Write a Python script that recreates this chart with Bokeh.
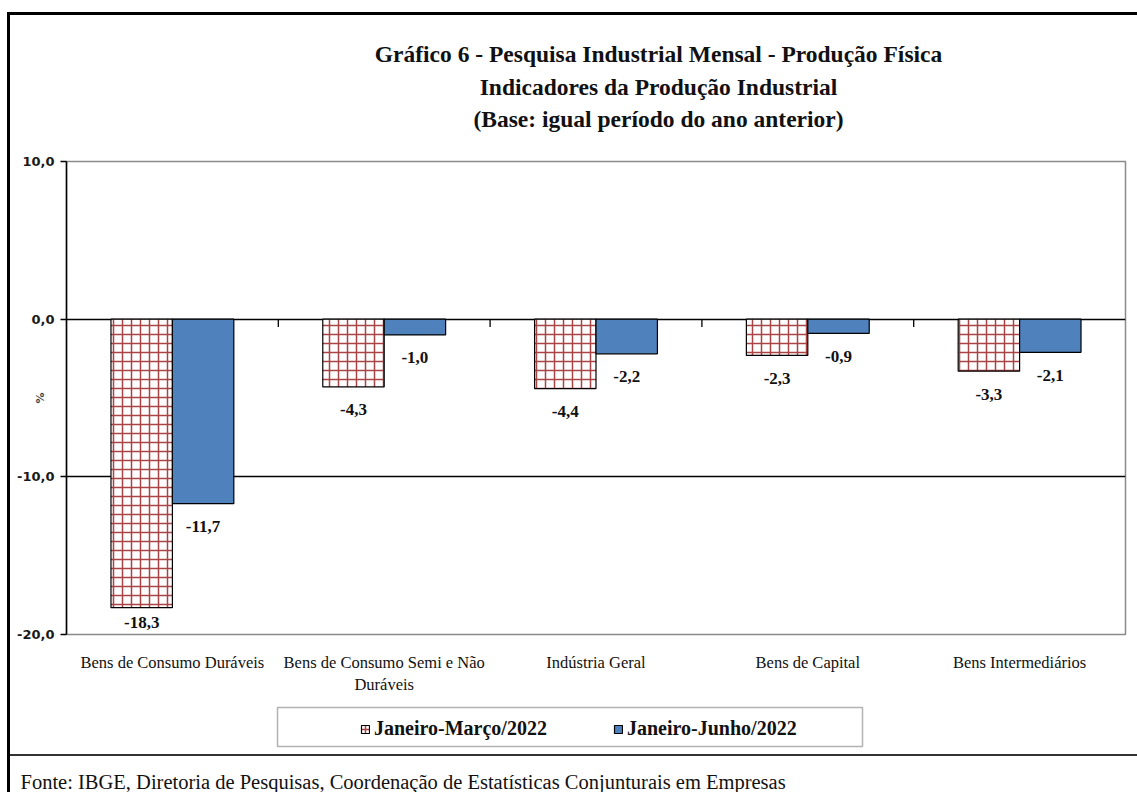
from bokeh.plotting import figure
from bokeh.layouts import column
from bokeh.models import (ColumnDataSource, FactorRange, Range1d, FixedTicker, Label, Title,
                          BoxAnnotation, Legend, LegendItem)
from bokeh.transform import dodge
from bokeh.core.properties import value
from bokeh.embed import file_html
from bokeh.resources import INLINE

# ---------------- data ----------------
categories = ["Bens de Consumo Duráveis", "Bens de Consumo Semi e Não\nDuráveis",
              "Indústria Geral", "Bens de Capital", "Bens Intermediários"]
jan_mar = [-18.3, -4.3, -4.4, -2.3, -3.3]
jan_jun = [-11.7, -1.0, -2.2, -0.9, -2.1]
series_names = ["Janeiro-Março/2022", "Janeiro-Junho/2022"]
y_ticks = [10, 0, -10, -20]
title_lines = ["Gráfico 6 - Pesquisa Industrial Mensal - Produção Física",
               "Indicadores da Produção Industrial",
               "(Base: igual período do ano anterior)"]
y_label = "%"
source_text = "Fonte: IBGE, Diretoria de Pesquisas, Coordenação de Estatísticas Conjunturais em Empresas"

# ---------------- style ----------------
SERIF = "Liberation Serif"
BLUE = "#4F81BD"
BRICK = "#A94444"
TXT = "#111111"
W_TOTAL = 1137
H_TOP, H_MAIN, H_BOT = 140, 560, 92
FRAME_LEFT = 67          # frames of the stacked figures are aligned here

def fmt(v):
    return f"{v:.1f}".replace(".", ",")

def label_y(v):
    return max(v - 1.45, -19.25)

def bg(*layers):
    # layers: (x, y, w, h, color) -> CSS background lines behind the transparent canvas
    return {
        "background-image": ", ".join(f"linear-gradient({c},{c})" for *_, c in layers),
        "background-size": ", ".join(f"{w}px {h}px" for _, _, w, h, _ in layers),
        "background-position": ", ".join(f"{x}px {y}px" for x, y, *_ in layers),
        "background-repeat": "no-repeat",
    }

def blank(height):
    f = figure(width=W_TOTAL, height=height, x_range=Range1d(0, 1), y_range=Range1d(0, 1),
               x_axis_type=None, y_axis_type=None, output_backend="svg", toolbar_location=None,
               min_border=0, min_border_left=0, min_border_right=0, min_border_top=0,
               min_border_bottom=0)
    f.grid.visible = False
    f.outline_line_color = None
    f.background_fill_color = None
    f.border_fill_color = None
    return f

# ---------------- header (title) ----------------
top = blank(H_TOP)
top.styles = bg((7, 12, 3, H_TOP, "#000"), (7, 12, W_TOTAL, 3, "#000"))
for line, page_y in zip(title_lines, [53, 86, 118]):
    top.add_layout(Label(x=659 - FRAME_LEFT, y=H_TOP - page_y, x_units="screen", y_units="screen",
                         text=line, text_font=SERIF, text_font_style="bold",
                         text_font_size="23.5px", text_align="center", text_baseline="middle",
                         text_color=TXT))

# ---------------- main chart ----------------
src = ColumnDataSource(dict(
    cat=categories,
    a=jan_mar, b=jan_jun,
    a_txt=[fmt(v) for v in jan_mar], b_txt=[fmt(v) for v in jan_jun],
    a_y=[label_y(v) for v in jan_mar], b_y=[label_y(v) for v in jan_jun],
))

p = figure(width=W_TOTAL, height=H_MAIN, frame_width=1059, frame_height=473,
           output_backend="svg", toolbar_location=None,
           x_range=FactorRange(*categories, range_padding=0),
           y_range=Range1d(-20, 10),
           min_border_left=66, min_border_right=12, min_border_top=21, min_border_bottom=66)
p.background_fill_color = "white"
p.border_fill_color = None
p.outline_line_color = "#8a8a8a"
p.outline_line_width = 1.5
p.styles = bg((7, 0, 3, H_MAIN, "#000"))

p.xgrid.grid_line_color = None
p.ygrid.ticker = FixedTicker(ticks=[0, -10])
p.ygrid.grid_line_color = "black"
p.ygrid.grid_line_width = 1.3

p.yaxis.ticker = FixedTicker(ticks=y_ticks)
p.yaxis.major_label_overrides = {t: fmt(t) for t in y_ticks}
p.yaxis.axis_line_color = "black"
p.yaxis.axis_line_width = 1.5
p.yaxis.major_tick_out = 6
p.yaxis.major_tick_in = 0
p.yaxis.major_tick_line_color = "black"
p.yaxis.major_tick_line_width = 1.5
p.yaxis.minor_tick_line_color = None
p.yaxis.major_label_text_font = "DejaVu Sans"
p.yaxis.major_label_text_font_style = "bold"
p.yaxis.major_label_text_font_size = "13px"
p.yaxis.major_label_text_color = "#1a1a1a"
p.yaxis.major_label_standoff = 6
p.yaxis.axis_label = y_label
p.yaxis.axis_label_text_font = "DejaVu Sans"
p.yaxis.axis_label_text_font_style = "bold"
p.yaxis.axis_label_text_font_size = "11px"
p.yaxis.axis_label_standoff = -33

p.xaxis.axis_line_color = None
p.xaxis.major_tick_line_color = None
p.xaxis.minor_tick_line_color = None
p.xaxis.major_label_text_font = SERIF
p.xaxis.major_label_text_font_size = "16.5px"
p.xaxis.major_label_text_color = TXT
p.xaxis.major_label_standoff = 12

W = 0.29
BAR_A = dict(fill_color="white", hatch_pattern="cross", hatch_color=BRICK, hatch_scale=9,
             hatch_weight=1.5, line_color="black", line_width=1.2)
BAR_B = dict(fill_color=BLUE, line_color="black", line_width=1.2)
p.vbar(x=dodge("cat", -W / 2, range=p.x_range), top="a", bottom=0, width=W, source=src, **BAR_A)
p.vbar(x=dodge("cat", W / 2, range=p.x_range), top="b", bottom=0, width=W, source=src, **BAR_B)

# small category-boundary ticks under the zero line
bounds = list(range(1, len(categories)))
p.segment(x0=bounds, y0=[0] * len(bounds), x1=bounds, y1=[-0.5] * len(bounds),
          line_color="black", line_width=1.3)

for xo, col, ycol in [(-W / 2, "a_txt", "a_y"), (W / 2, "b_txt", "b_y")]:
    p.text(x=dodge("cat", xo, range=p.x_range), y=ycol, text=col, source=src,
           text_font=value(SERIF), text_font_style="bold", text_font_size="17px",
           text_align="center", text_baseline="middle", text_color=TXT)

# ---------------- footer (legend + source) ----------------
bot = blank(H_BOT)
bot.styles = bg((7, 0, 3, H_BOT, "#000"), (7, 54, W_TOTAL, 2, "#333"))
base = 700      # page y of the footer's top edge
F_BOT = 67      # footer frame height (source title panel takes the rest)

def fy(page_y):
    return F_BOT - (page_y - base)

nan = float("nan")
la = bot.vbar(x=[0.5], top=[nan], width=0.1, **BAR_A)
lb = bot.vbar(x=[0.5], top=[nan], width=0.1, **BAR_B)
bot.add_layout(BoxAnnotation(left=278 - FRAME_LEFT, right=863 - FRAME_LEFT, top=fy(706),
                             bottom=fy(745), left_units="screen", right_units="screen",
                             top_units="screen", bottom_units="screen", fill_color="white",
                             line_color="black", line_width=1.5, level="underlay"))
legend = Legend(items=[LegendItem(label=series_names[0], renderers=[la]),
                       LegendItem(label=series_names[1], renderers=[lb])],
                orientation="horizontal", location=(361 - FRAME_LEFT, fy(739)),
                border_line_color=None, background_fill_alpha=0,
                glyph_width=10, glyph_height=10, label_standoff=4, spacing=0,
                label_width=239, padding=8, margin=0,
                label_text_font=SERIF, label_text_font_style="bold",
                label_text_font_size="20px", label_text_color=TXT)
bot.add_layout(legend)
bot.add_layout(Title(text=source_text, align="left", offset=-46, standoff=0,
                     vertical_align="bottom", text_font=SERIF, text_font_size="20.5px",
                     text_font_style="normal", text_color=TXT), "below")

layout = column(top, p, bot, spacing=0)
open("out.html", "w").write(file_html(layout, INLINE))
